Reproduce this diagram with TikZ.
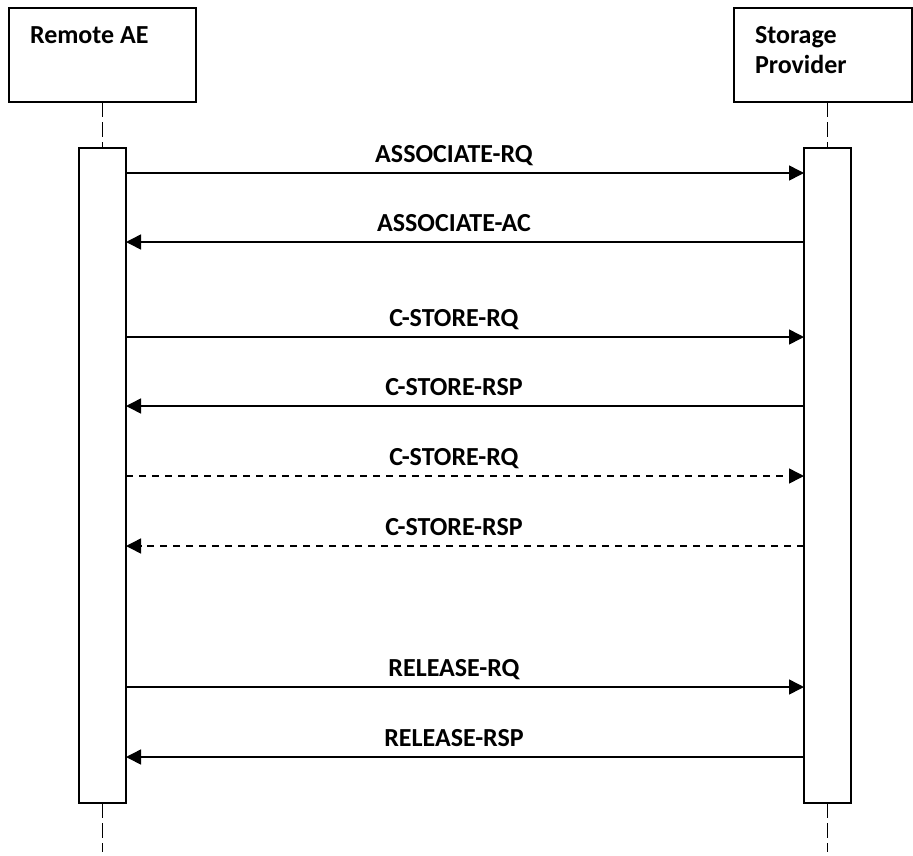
\documentclass[tikz,border=0pt]{standalone}
\usepackage{fontspec}
\setmainfont{Carlito}
\usetikzlibrary{arrows.meta}
\begin{document}
\begin{tikzpicture}[x=1pt,y=-1pt,
  every node/.style={inner sep=0pt,outer sep=0pt},
  actorbox/.style={draw,line width=1.6pt,fill=white,anchor=north west},
  actbar/.style={draw,line width=1.6pt,fill=white,anchor=north,minimum width=47pt,minimum height=655pt},
  lifeline/.style={line width=1.6pt,dash pattern=on 15pt off 5pt},
  msg/.style={line width=1.5pt,-{Triangle[length=15pt,width=15pt]}},
  msgdash/.style={msg,dash pattern=on 7pt off 6pt},
  lbl/.style={font=\fontsize{26}{30}\selectfont\bfseries,anchor=base},
  title/.style={font=\fontsize{26}{30}\selectfont\bfseries,anchor=base west,align=left}
]
\useasboundingbox (0,0) rectangle (913,855);

% participants
\node[actorbox,minimum width=187pt,minimum height=94pt] (boxL) at (9,8) {};
\node[actorbox,minimum width=178pt,minimum height=94pt] (boxR) at (734,8) {};
\node[title] (nameL) at (30,43) {Remote AE};
\node[title] (nameR1) at (755,43) {Storage};
\node[title] (nameR2) at (755,73) {Provider};

% activation bars
\node[actbar] (actL) at (102.5,148) {};
\node[actbar] (actR) at (827.5,148) {};

% lifelines
\coordinate (endL) at (102.5,852);
\coordinate (endR) at (827.5,852);
\draw[lifeline] (boxL.south -| actL.north) -- (actL.north);
\draw[lifeline] (boxR.south -| actR.north) -- (actR.north);
\draw[lifeline] (actL.south) -- (endL);
\draw[lifeline] (actR.south) -- (endR);

% messages
\foreach \y/\txt/\dir/\sty in {
  173/ASSOCIATE-RQ/r/msg,
  242/ASSOCIATE-AC/l/msg,
  337/C-STORE-RQ/r/msg,
  406/C-STORE-RSP/l/msg,
  476/C-STORE-RQ/r/msgdash,
  546/C-STORE-RSP/l/msgdash,
  687/RELEASE-RQ/r/msg,
  757/RELEASE-RSP/l/msg}{
  \coordinate (pL) at (actL.east |- 0,\y);
  \coordinate (pR) at (actR.west |- 0,\y);
  \if r\dir
    \draw[\sty] (pL) -- (pR);
  \else
    \draw[\sty] (pR) -- (pL);
  \fi
  \node[lbl] at (454,\y-11) {\txt};
}
\end{tikzpicture}
\end{document}
